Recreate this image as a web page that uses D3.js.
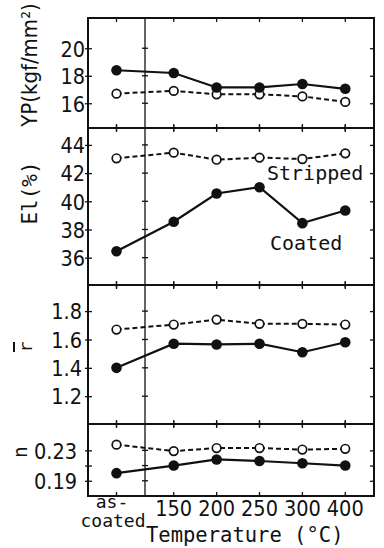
<!DOCTYPE html>
<html>
<head>
<meta charset="utf-8">
<script src="https://cdn.jsdelivr.net/npm/d3@7"></script>
<style>
  body { margin: 0; background: #fff; }
  svg text { fill: #111; }
  .num { font-family: "DejaVu Sans Condensed", "DejaVu Sans", sans-serif; font-size: 21.5px; }
  .mono { font-family: "DejaVu Sans Mono", monospace; }
</style>
</head>
<body>
<svg id="chart" width="384" height="548"></svg>
<script>
var categories = ["as-coated", "150", "200", "250", "300", "400"]

var ypCoated = [18.4, 18.2, 17.15, 17.15, 17.4, 17.05]
var ypStripped = [16.7, 16.9, 16.65, 16.65, 16.5, 16.1]
var elCoated = [36.45, 38.55, 40.55, 41.0, 38.45, 39.35]
var elStripped = [43.05, 43.45, 42.95, 43.1, 43.0, 43.4]
var rCoated = [1.40, 1.57, 1.565, 1.57, 1.51, 1.58]
var rStripped = [1.67, 1.705, 1.74, 1.71, 1.71, 1.705]
var nCoated = [0.200, 0.210, 0.218, 0.216, 0.213, 0.210]
var nStripped = [0.2375, 0.229, 0.233, 0.233, 0.231, 0.232]

var ypTicks = [16, 18, 20]
var elTicks = [36, 38, 40, 42, 44]
var rTicks = [1.2, 1.4, 1.6, 1.8]
var nTicks = [0.19, 0.21, 0.23]
var nLabeled = [0.19, 0.23]

var svg = d3.select("#chart")
var left = 88, right = 374, split = 145

// as-coated sits in its own narrow section left of the divider
var xAs = d3.scalePoint().domain(categories.slice(0, 1)).range([left, split]).padding(0.5)
var xT = d3.scalePoint().domain(categories.slice(1)).range([split, right]).padding(0.67)
var xPos = function(c) { return c === "as-coated" ? xAs(c) : xT(c) }

var panels = [
  { coated: ypCoated, stripped: ypStripped, domain: [14.2, 22.2], ticks: ypTicks,
    fmt: d3.format("d"), top: 18, bottom: 128, pad: 0 },
  { coated: elCoated, stripped: elStripped, domain: [34.06, 45.2], ticks: elTicks,
    fmt: d3.format("d"), top: 128, bottom: 285, pad: 0 },
  { coated: rCoated, stripped: rStripped, domain: [1.004, 1.984], ticks: rTicks,
    fmt: d3.format(".1f"), top: 285, bottom: 424, pad: 3 },
  { coated: nCoated, stripped: nStripped, domain: [0.170, 0.2646], ticks: nTicks,
    fmt: function(d) { return nLabeled.indexOf(d) >= 0 ? d3.format(".2f")(d) : "" }, top: 424, bottom: 496, pad: 8 }
]

function clean(g) {
  g.select(".domain").remove()
  g.attr("font-size", null).attr("font-family", null)
  g.selectAll("line").attr("stroke", "#111").attr("stroke-width", 1.3)
}

panels.forEach(function(p, i) {
  var y = d3.scaleLinear().domain(p.domain).range([p.bottom, p.top])
  var g = svg.append("g")

  // left: labels with short outside tick, plus inward tick
  g.append("g").attr("transform", "translate(" + left + ",0)")
    .call(d3.axisLeft(y).tickValues(p.ticks).tickSize(3).tickPadding(p.pad).tickFormat(p.fmt))
    .call(clean)
    .selectAll("text").attr("class", "num").attr("dy", "0.36em")
  g.append("g").attr("transform", "translate(" + left + ",0)")
    .call(d3.axisRight(y).tickValues(p.ticks).tickSize(4).tickFormat(""))
    .call(clean)
  g.append("g").attr("transform", "translate(" + right + ",0)")
    .call(d3.axisLeft(y).tickValues(p.ticks).tickSize(4).tickFormat(""))
    .call(clean)

  // crossing ticks on the divider
  g.selectAll(".divtick").data(p.ticks).enter().append("line")
    .attr("x1", split - 3).attr("x2", split + 3)
    .attr("y1", function(d) { return y(d) }).attr("y2", function(d) { return y(d) })
    .attr("stroke", "#111").attr("stroke-width", 1.3)

  // x ticks on top and bottom edges
  var tickX = categories.map(xPos)
  g.selectAll(".ttop").data(tickX).enter().append("line")
    .attr("x1", function(d) { return d }).attr("x2", function(d) { return d })
    .attr("y1", p.top - (i === 0 ? 0 : 3)).attr("y2", p.top + 4)
    .attr("stroke", "#111").attr("stroke-width", 1.3)
  g.selectAll(".tbot").data(tickX).enter().append("line")
    .attr("x1", function(d) { return d }).attr("x2", function(d) { return d })
    .attr("y1", p.bottom - 4).attr("y2", p.bottom + (i === panels.length - 1 ? 0 : 3))
    .attr("stroke", "#111").attr("stroke-width", 1.3)

  g.append("rect")
    .attr("x", left).attr("y", p.top)
    .attr("width", right - left).attr("height", p.bottom - p.top)
    .attr("fill", "none").attr("stroke", "#111").attr("stroke-width", 2)

  var line = d3.line()
    .x(function(d) { return xPos(d.c) })
    .y(function(d) { return y(d.v) })

  var sData = categories.map(function(c, j) { return { c: c, v: p.stripped[j] } })
  var cData = categories.map(function(c, j) { return { c: c, v: p.coated[j] } })

  g.append("path").datum(sData).attr("d", line)
    .attr("fill", "none").attr("stroke", "#111").attr("stroke-width", 2)
    .attr("stroke-dasharray", "5,3")
  g.append("path").datum(cData).attr("d", line)
    .attr("fill", "none").attr("stroke", "#111").attr("stroke-width", 2.2)

  g.selectAll(".open").data(sData).enter().append("circle")
    .attr("cx", function(d) { return xPos(d.c) })
    .attr("cy", function(d) { return y(d.v) })
    .attr("r", 4.3).attr("fill", "#fff").attr("stroke", "#111").attr("stroke-width", 1.7)
  g.selectAll(".filled").data(cData).enter().append("circle")
    .attr("cx", function(d) { return xPos(d.c) })
    .attr("cy", function(d) { return y(d.v) })
    .attr("r", 5.3).attr("fill", "#111")
})

// vertical divider through all panels
svg.append("line")
  .attr("x1", split).attr("x2", split)
  .attr("y1", panels[0].top).attr("y2", panels[panels.length - 1].bottom)
  .attr("stroke", "#111").attr("stroke-width", 1.3)

// x labels
svg.selectAll(".xlab").data(categories.slice(1)).enter().append("text")
  .attr("class", "num")
  .attr("x", function(d) { return xPos(d) }).attr("y", 516)
  .attr("text-anchor", "middle")
  .text(function(d) { return d })
svg.append("text").attr("class", "mono").attr("font-size", 18)
  .attr("x", 112).attr("y", 508).attr("text-anchor", "middle").text("as-")
svg.append("text").attr("class", "mono").attr("font-size", 18)
  .attr("x", 113).attr("y", 527).attr("text-anchor", "middle").text("coated")
svg.append("text").attr("class", "mono").attr("font-size", 20.5)
  .attr("x", 146).attr("y", 542).text("Temperature (°C)")

// series annotations
svg.append("text").attr("class", "mono").attr("font-size", 20)
  .attr("x", 267).attr("y", 180).text("Stripped")
svg.append("text").attr("class", "mono").attr("font-size", 20)
  .attr("x", 270).attr("y", 250).text("Coated")

// y titles
function yTitle(txt, x, yc, cls, size) {
  return svg.append("text").attr("class", cls).attr("font-size", size)
    .attr("text-anchor", "middle")
    .attr("transform", "translate(" + x + "," + yc + ") rotate(-90)")
    .text(txt)
}
yTitle("YP(kgf/mm²)", 37, 65, "num", 22).style("font-size", "22px")
yTitle("El(%)", 37, 193, "mono", 21)
yTitle("r", 32, 347, "mono", 18)
svg.append("line").attr("x1", 14).attr("x2", 14).attr("y1", 342).attr("y2", 352)
  .attr("stroke", "#111").attr("stroke-width", 2)
yTitle("n", 27, 452, "num", 19).style("font-size", "19px")
</script>
</body>
</html>
